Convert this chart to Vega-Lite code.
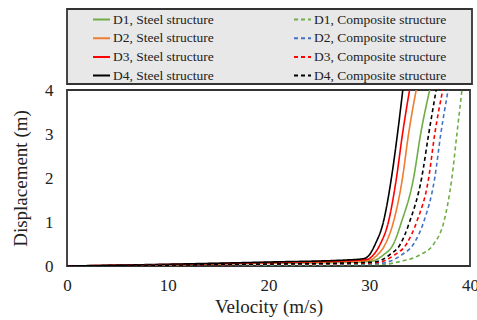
{
  "$schema": "https://vega.github.io/schema/vega-lite/v6.json",
  "width": 403,
  "height": 176,
  "autosize": "none",
  "padding": {"left": 67, "top": 90, "right": 7, "bottom": 54},
  "config": {
    "font": "Liberation Serif",
    "axis": {"labelFont": "Liberation Serif", "titleFont": "Liberation Serif"},
    "legend": {"labelFont": "Liberation Serif", "titleFont": "Liberation Serif"},
    "view": {"stroke": "#333333", "strokeWidth": 1.8}
  },
  "data": {
    "values": [
      {"series": "D1, Steel structure", "v": [0, 10, 20, 28, 30.2, 31.4, 32.4, 33.2, 34.4, 35.1, 36.0], "d": [0, 0.025, 0.06, 0.085, 0.11, 0.25, 0.5, 1, 2, 3, 4]},
      {"series": "D2, Steel structure", "v": [0, 10, 20, 28, 30, 30.8, 31.6, 32.4, 33.3, 33.9, 34.66], "d": [0, 0.03, 0.07, 0.1, 0.13, 0.25, 0.5, 1, 2, 3, 4]},
      {"series": "D3, Steel structure", "v": [0, 10, 20, 28, 29.8, 30.4, 31.1, 31.9, 32.7, 33.3, 34.0], "d": [0, 0.035, 0.08, 0.12, 0.15, 0.25, 0.5, 1, 2, 3, 4]},
      {"series": "D4, Steel structure", "v": [0, 10, 20, 28, 29.5, 30, 30.6, 31.4, 32.2, 32.8, 33.33], "d": [0, 0.04, 0.09, 0.14, 0.17, 0.25, 0.5, 1, 2, 3, 4]},
      {"series": "D1, Composite structure", "v": [0, 10, 20, 28, 31.5, 33, 35, 36.4, 37.4, 38.2, 38.7, 39.2], "d": [0, 0.01, 0.02, 0.03, 0.04, 0.1, 0.25, 0.5, 1, 2, 3, 4]},
      {"series": "D2, Composite structure", "v": [0, 10, 20, 28, 31, 33.2, 34.4, 35.4, 36.5, 37.1, 37.83], "d": [0, 0.015, 0.03, 0.045, 0.06, 0.25, 0.5, 1, 2, 3, 4]},
      {"series": "D3, Composite structure", "v": [0, 10, 20, 28, 30.8, 32.5, 33.7, 34.7, 35.9, 36.5, 37.3], "d": [0, 0.018, 0.04, 0.06, 0.08, 0.25, 0.5, 1, 2, 3, 4]},
      {"series": "D4, Composite structure", "v": [0, 10, 20, 28, 30.5, 32, 33.1, 34.0, 35.2, 35.9, 36.64], "d": [0, 0.02, 0.045, 0.07, 0.09, 0.25, 0.5, 1, 2, 3, 4]}
    ]
  },
  "transform": [{"flatten": ["v", "d"]}],
  "mark": {"type": "line", "strokeWidth": 1.6, "interpolate": "monotone", "clip": true},
  "encoding": {
    "x": {
      "field": "v", "type": "quantitative",
      "scale": {"domain": [0, 40], "nice": false},
      "axis": {"title": "Velocity (m/s)", "values": [0, 10, 20, 30, 40], "grid": false, "ticks": false, "domain": false,
        "labelFontSize": 17, "labelPadding": 11, "labelColor": "#222222", "labelFlush": false,
        "titleFontSize": 19, "titleFontWeight": "normal", "titleColor": "#222222", "titlePadding": 4}
    },
    "y": {
      "field": "d", "type": "quantitative",
      "scale": {"domain": [0, 4], "nice": false},
      "axis": {"title": "Displacement (m)", "values": [0, 1, 2, 3, 4], "grid": false, "ticks": false, "domain": false,
        "labelFontSize": 17, "labelPadding": 14, "labelColor": "#222222",
        "titleFontSize": 19, "titleFontWeight": "normal", "titleColor": "#222222", "titlePadding": 14}
    },
    "color": {
      "field": "series", "type": "nominal",
      "scale": {
        "domain": ["D1, Steel structure", "D1, Composite structure", "D2, Steel structure", "D2, Composite structure", "D3, Steel structure", "D3, Composite structure", "D4, Steel structure", "D4, Composite structure"],
        "range": ["#70AD47", "#70AD47", "#ED7D31", "#4472C4", "#FF0000", "#FF0000", "#000000", "#000000"]
      },
      "legend": {
        "title": " ", "titleOrient": "right", "titlePadding": 25, "titleFontSize": 13,
        "orient": "none", "legendX": 0, "legendY": -81, "columns": 2, "direction": "horizontal",
        "fillColor": "#e8e8e8", "strokeColor": "#333333", "padding": 1,
        "symbolType": "stroke", "symbolSize": 289, "symbolStrokeWidth": 2,
        "labelFontSize": 13.5, "labelColor": "#222222", "labelLimit": 0, "labelOffset": 2,
        "rowPadding": 2.7, "columnPadding": 55, "symbolOffset": 24,
        "encode": {"legend": {"update": {"strokeWidth": {"value": 1.8}}}}
      }
    },
    "strokeDash": {
      "field": "series", "type": "nominal",
      "scale": {
        "domain": ["D1, Steel structure", "D1, Composite structure", "D2, Steel structure", "D2, Composite structure", "D3, Steel structure", "D3, Composite structure", "D4, Steel structure", "D4, Composite structure"],
        "range": [[1, 0], [4, 3], [1, 0], [4, 3], [1, 0], [4, 3], [1, 0], [4, 3]]
      },
      "legend": {"title": " "}
    }
  }
}
